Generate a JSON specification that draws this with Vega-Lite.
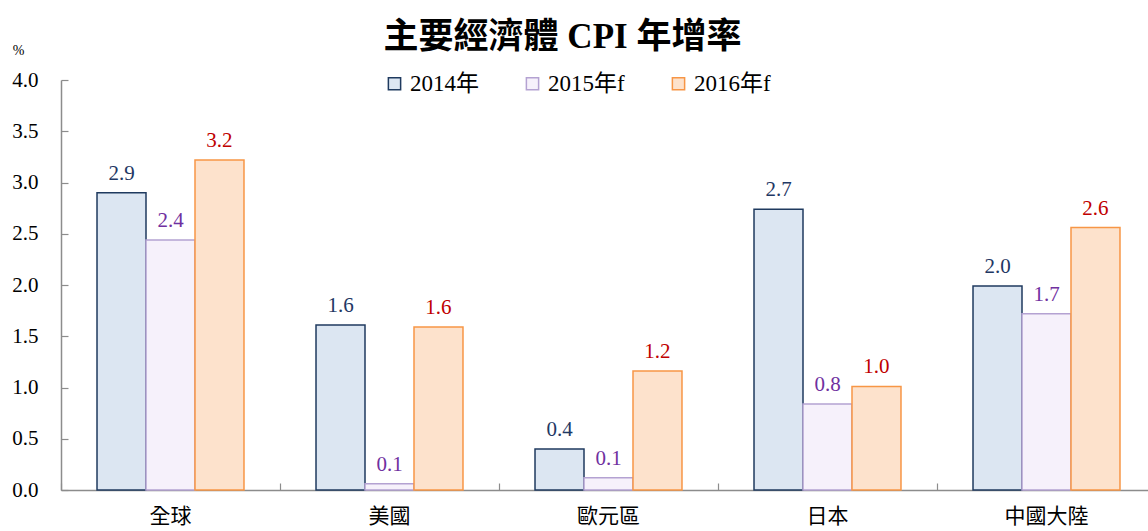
{
  "$schema": "https://vega.github.io/schema/vega-lite/v6.json",
  "autosize": {"type": "none"},
  "padding": {"left": 61, "top": 80, "right": -8, "bottom": 41},
  "width": 1095,
  "height": 410,
  "background": "white",
  "title": {
    "text": "主要經濟體 CPI 年增率",
    "font": "Liberation Serif, Noto Sans CJK TC",
    "fontSize": 35,
    "fontWeight": "bold",
    "color": "#000000",
    "anchor": "middle",
    "dx": -46,
    "offset": -12
  },
  "config": {
    "view": {"stroke": null},
    "font": "Liberation Serif, Noto Sans CJK TC"
  },
  "data": {
    "values": [
      {"region": "全球", "series": "2014年", "value": 2.90},
      {"region": "全球", "series": "2015年f", "value": 2.44},
      {"region": "全球", "series": "2016年f", "value": 3.22},
      {"region": "美國", "series": "2014年", "value": 1.61},
      {"region": "美國", "series": "2015年f", "value": 0.06},
      {"region": "美國", "series": "2016年f", "value": 1.59},
      {"region": "歐元區", "series": "2014年", "value": 0.40},
      {"region": "歐元區", "series": "2015年f", "value": 0.12},
      {"region": "歐元區", "series": "2016年f", "value": 1.16},
      {"region": "日本", "series": "2014年", "value": 2.74},
      {"region": "日本", "series": "2015年f", "value": 0.84},
      {"region": "日本", "series": "2016年f", "value": 1.01},
      {"region": "中國大陸", "series": "2014年", "value": 1.99},
      {"region": "中國大陸", "series": "2015年f", "value": 1.72},
      {"region": "中國大陸", "series": "2016年f", "value": 2.56}
    ]
  },
  "encoding": {
    "x": {
      "field": "region",
      "type": "nominal",
      "sort": ["全球", "美國", "歐元區", "日本", "中國大陸"],
      "scale": {"paddingInner": 0, "paddingOuter": 0},
      "axis": {
        "title": null,
        "labelAngle": 0,
        "labelFontSize": 21,
        "labelColor": "#000000",
        "labelFont": "Liberation Serif, Noto Sans CJK TC",
        "labelPadding": 22,
        "tickSize": -7,
        "bandPosition": 0,
        "domainColor": "#8c8c8c",
        "tickColor": "#8c8c8c",
        "domainWidth": 1.5,
        "tickWidth": 1.2,
        "grid": false
      }
    },
    "xOffset": {
      "field": "series",
      "type": "nominal",
      "sort": ["2014年", "2015年f", "2016年f"],
      "scale": {"paddingInner": 0, "paddingOuter": 0.735}
    },
    "y": {
      "field": "value",
      "type": "quantitative",
      "scale": {"domain": [0, 4]},
      "axis": {
        "title": "%",
        "titleAngle": 0,
        "titleFontSize": 14,
        "titleFontWeight": "normal",
        "titleColor": "#000000",
        "titleX": -43,
        "titleY": -30,
        "titleAlign": "center",
        "titleBaseline": "middle",
        "values": [0, 0.5, 1, 1.5, 2, 2.5, 3, 3.5, 4],
        "format": ".1f",
        "labelFontSize": 21,
        "labelColor": "#000000",
        "labelPadding": 30,
        "tickSize": -7,
        "domainColor": "#8c8c8c",
        "tickColor": "#8c8c8c",
        "domainWidth": 1.5,
        "tickWidth": 1.2,
        "grid": false
      }
    }
  },
  "layer": [
    {
      "mark": {"type": "bar", "strokeWidth": 1.5},
      "encoding": {
        "fill": {
          "field": "series",
          "type": "nominal",
          "sort": ["2014年", "2015年f", "2016年f"],
          "scale": {"range": ["#dce6f2", "#f6f1fb", "#fde2cc"]},
          "legend": {
            "title": null,
            "orient": "none",
            "legendX": 322,
            "legendY": -8,
            "direction": "horizontal",
            "symbolType": "square",
            "symbolSize": 150,
            "symbolStrokeWidth": 1.5,
            "labelFontSize": 23,
            "labelColor": "#000000",
            "labelFont": "Liberation Serif, Noto Sans CJK TC",
            "labelOffset": 4,
            "columnPadding": 42,
            "encode": {
              "symbols": {
                "update": {
                  "stroke": {"scale": "stroke", "field": "value"},
                  "fill": {"scale": "fill", "field": "value"},
                  "strokeWidth": {"value": 1.5}
                }
              }
            }
          }
        },
        "stroke": {
          "field": "series",
          "type": "nominal",
          "sort": ["2014年", "2015年f", "2016年f"],
          "scale": {"range": ["#1f3a5f", "#b4a2d2", "#f79646"]},
          "legend": null
        }
      }
    },
    {
      "mark": {"type": "text", "baseline": "bottom", "dy": -9, "fontSize": 21, "font": "Liberation Serif"},
      "encoding": {
        "text": {"field": "value", "type": "quantitative", "format": ".1f"},
        "color": {
          "field": "series",
          "type": "nominal",
          "sort": ["2014年", "2015年f", "2016年f"],
          "scale": {"range": ["#1f3864", "#7030a0", "#c00000"]},
          "legend": null
        }
      }
    }
  ]
}
